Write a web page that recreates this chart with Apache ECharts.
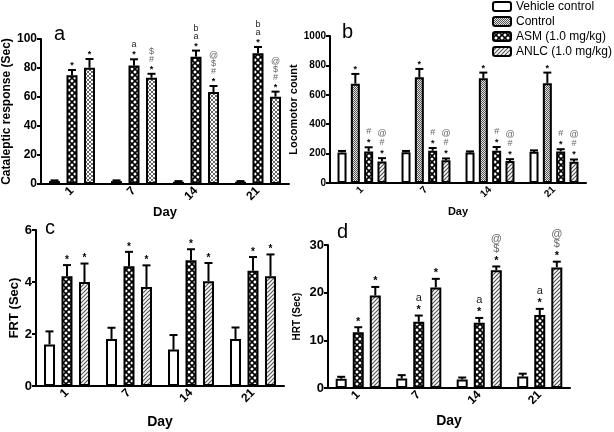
<!DOCTYPE html>
<html><head><meta charset="utf-8">
<script src="https://cdn.jsdelivr.net/npm/echarts@6/dist/echarts.min.js"></script>
<style>html,body{margin:0;padding:0;background:#fff}#c{width:614px;height:432px}</style>
</head><body><div id="c"></div>
<script>
const days = ['1', '7', '14', '21'];
const legendNames = ['Vehicle control', 'Control', 'ASM (1.0 mg/kg)', 'ANLC (1.0 mg/kg)'];

// Panel a: Cataleptic response (Sec)
const aVehicle = [2, 2, 1.5, 1.5];
const aVehicleErr = [0.5, 0.5, 0.5, 0.5];
const aASM = [75, 81.8, 87.8, 90.1];
const aASMErr = [3.6, 4.2, 4.2, 4.4];
const aASMLab = ['*', 'a\n*', 'b\na\n*', 'b\na\n*'];
const aANLC = [80.2, 73.3, 63.4, 60.2];
const aANLCErr = [6, 2.7, 4.2, 3.5];
const aANLCLab = ['*', '$\n#\n*', '@\n$\n#\n*', '@\n$\n#\n*'];

// Panel b: Locomotor count
const bVehicle = [208, 210, 207, 212];
const bVehicleErr = [10, 8, 8, 10];
const bControl = [676, 719, 713, 679];
const bControlErr = [66, 57, 38, 72];
const bControlLab = ['*', '*', '*', '*'];
const bASM = [215, 220, 220, 215];
const bASMErr = [28, 18, 25, 15];
const bASMLab = ['#\n*', '#\n*', '#\n*', '#\n*'];
const bANLC = [147, 155, 150, 145];
const bANLCErr = [22, 12, 12, 15];
const bANLCLab = ['@\n#\n*', '@\n#\n*', '@\n#\n*', '@\n#\n*'];

// Panel c: FRT (Sec)
const cVehicle = [1.6, 1.81, 1.4, 1.81];
const cVehicleErr = [0.5, 0.43, 0.56, 0.44];
const cASM = [4.22, 4.61, 4.84, 4.43];
const cASMErr = [0.43, 0.55, 0.42, 0.53];
const cASMLab = ['*', '*', '*', '*'];
const cANLC = [4.0, 3.81, 4.03, 4.22];
const cANLCErr = [0.71, 0.83, 0.7, 0.84];
const cANLCLab = ['*', '*', '*', '*'];

// Panel d: HRT (Sec)
const dVehicle = [1.95, 2.0, 1.8, 2.4];
const dVehicleErr = [0.4, 0.7, 0.4, 0.6];
const dASM = [11.7, 13.9, 13.7, 15.3];
const dASMErr = [1.05, 1.3, 1.0, 1.3];
const dASMLab = ['*', 'a\n*', 'a\n*', 'a\n*'];
const dANLC = [19.4, 21.1, 24.7, 25.3];
const dANLCErr = [1.8, 1.8, 0.8, 1.2];
const dANLCLab = ['*', '*', '@\n$\n*', '@\n$\n*'];

const FONT = 'Arial, "Liberation Sans", sans-serif';

function pattern(size, draw) {
  const c = document.createElement('canvas');
  c.width = size; c.height = size;
  const ctx = c.getContext('2d');
  draw(ctx, size);
  return { image: c, repeat: 'repeat' };
}
const pWhite = '#ffffff';
const pControl = pattern(2, (ctx) => {
  ctx.fillStyle = '#e4e4e4'; ctx.fillRect(0, 0, 2, 2);
  ctx.fillStyle = '#555'; ctx.fillRect(0, 0, 1, 1); ctx.fillRect(1, 1, 1, 1);
});
const pASM = pattern(6, (ctx, s) => {
  ctx.fillStyle = '#fff'; ctx.fillRect(0, 0, s, s);
  ctx.strokeStyle = '#000'; ctx.lineWidth = 1.6;
  ctx.beginPath();
  ctx.moveTo(-1, -1); ctx.lineTo(s + 1, s + 1);
  ctx.moveTo(s + 1, -1); ctx.lineTo(-1, s + 1);
  ctx.stroke();
});
const pANLC = pattern(4, (ctx, s) => {
  ctx.fillStyle = '#fff'; ctx.fillRect(0, 0, s, s);
  ctx.strokeStyle = '#555'; ctx.lineWidth = 1.2;
  ctx.beginPath();
  ctx.moveTo(-1, s + 1); ctx.lineTo(s + 1, -1);
  ctx.moveTo(-1, 1); ctx.lineTo(1, -1);
  ctx.moveTo(s - 1, s + 1); ctx.lineTo(s + 1, s - 1);
  ctx.stroke();
});
const pDots = pattern(4, (ctx, s) => {
  ctx.fillStyle = '#fff'; ctx.fillRect(0, 0, s, s);
  ctx.strokeStyle = '#666'; ctx.lineWidth = 1;
  ctx.beginPath();
  ctx.moveTo(-1, -1); ctx.lineTo(s + 1, s + 1);
  ctx.moveTo(s + 1, -1); ctx.lineTo(-1, s + 1);
  ctx.stroke();
});

const panels = [
  { key: 'a', grid: { left: 41, top: 39, width: 248, height: 145 }, min: 0, max: 100, interval: 20,
    yName: 'Cataleptic response (Sec)', yNameSize: 12, yNameGap: 22, yLabelSize: 12,
    xNameSize: 13, xNameGap: 21, xLabelSize: 12, barWidth: 11, barGap: '59%', labSize: 9, labStep: 8,
    bars: [
      { name: 'Vehicle a', data: aVehicle, err: aVehicleErr, lab: null, color: pWhite },
      { name: 'ASM a', data: aASM, err: aASMErr, lab: aASMLab, color: pASM },
      { name: 'ANLC a', data: aANLC, err: aANLCErr, lab: aANLCLab, color: pDots }
    ] },
  { key: 'b', grid: { left: 330, top: 36, width: 256, height: 147 }, min: 0, max: 1000, interval: 200,
    yName: 'Locomotor count', yNameSize: 11, yNameGap: 24, yLabelSize: 10,
    xNameSize: 11, xNameGap: 23, xLabelSize: 10, barWidth: 9, barGap: '48%', labSize: 9, labStep: 9,
    bars: [
      { name: legendNames[0], data: bVehicle, err: bVehicleErr, lab: null, color: pWhite },
      { name: legendNames[1], data: bControl, err: bControlErr, lab: bControlLab, color: pControl },
      { name: legendNames[2], data: bASM, err: bASMErr, lab: bASMLab, color: pASM },
      { name: legendNames[3], data: bANLC, err: bANLCErr, lab: bANLCLab, color: pANLC }
    ] },
  { key: 'c', grid: { left: 36, top: 230, width: 248, height: 156 }, min: 0, max: 6, interval: 2,
    yName: 'FRT (Sec)', yNameSize: 13, yNameGap: 14, yLabelSize: 13,
    xNameSize: 14, xNameGap: 29, xLabelSize: 12, barWidth: 11, barGap: '59%', labSize: 10, labStep: 9,
    bars: [
      { name: 'Vehicle c', data: cVehicle, err: cVehicleErr, lab: null, color: pWhite },
      { name: 'ASM c', data: cASM, err: cASMErr, lab: cASMLab, color: pASM },
      { name: 'ANLC c', data: cANLC, err: cANLCErr, lab: cANLCLab, color: pANLC }
    ] },
  { key: 'd', grid: { left: 328, top: 245, width: 242, height: 143 }, min: 0, max: 30, interval: 10,
    yName: 'HRT (Sec)', yNameSize: 10, yNameGap: 26, yLabelSize: 13,
    xNameSize: 14, xNameGap: 26, xLabelSize: 12, barWidth: 11, barGap: '55%', labSize: 11, labStep: 10,
    bars: [
      { name: 'Vehicle d', data: dVehicle, err: dVehicleErr, lab: null, color: pWhite },
      { name: 'ASM d', data: dASM, err: dASMErr, lab: dASMLab, color: pASM },
      { name: 'ANLC d', data: dANLC, err: dANLCErr, lab: dANLCLab, color: pANLC }
    ] }
];

const grids = [], xAxes = [], yAxes = [], series = [];
panels.forEach((p, pi) => {
  grids.push(Object.assign({ containLabel: false }, p.grid));
  xAxes.push({
    type: 'category', gridIndex: pi, data: days,
    name: 'Day', nameLocation: 'middle', nameGap: p.xNameGap,
    nameTextStyle: { fontFamily: FONT, fontWeight: 'bold', fontSize: p.xNameSize, color: '#000' },
    axisLine: { lineStyle: { color: '#000', width: 2 } },
    axisTick: { alignWithLabel: true, length: 4, lineStyle: { color: '#000', width: 1.5 } },
    axisLabel: { rotate: 45, fontFamily: FONT, fontWeight: 'bold', fontSize: p.xLabelSize, color: '#000', margin: 5 }
  });
  yAxes.push({
    type: 'value', gridIndex: pi, min: p.min, max: p.max, interval: p.interval,
    name: p.yName, nameLocation: 'middle', nameGap: p.yNameGap,
    nameTextStyle: { fontFamily: FONT, fontWeight: 'bold', fontSize: p.yNameSize, color: '#000' },
    axisLine: { show: true, lineStyle: { color: '#000', width: 2 } },
    axisTick: { show: true, length: 4, lineStyle: { color: '#000', width: 2 } },
    axisLabel: { fontFamily: FONT, fontWeight: 'bold', fontSize: p.yLabelSize, color: '#000', margin: 4,
      formatter: (v) => String(v) },
    splitLine: { show: false }
  });
  const n = p.bars.length;
  const gapFrac = parseFloat(p.barGap) / 100;
  const step = p.barWidth * (1 + gapFrac);
  p.bars.forEach((b, bi) => {
    series.push({
      type: 'bar', name: b.name, xAxisIndex: pi, yAxisIndex: pi,
      data: b.data, barWidth: p.barWidth, barGap: p.barGap,
      itemStyle: { color: b.color, borderColor: '#000', borderWidth: 2 },
      emphasis: { disabled: true }, animation: false, z: 2
    });
    const offset = (bi - (n - 1) / 2) * step;
    const labs = b.lab;
    series.push({
      type: 'custom', xAxisIndex: pi, yAxisIndex: pi, animation: false, z: 3,
      data: b.data.map((v, i) => [i, v, b.err[i]]),
      encode: { x: 0, y: 1 },
      renderItem: function (params, api) {
        const i = api.value(0), v = api.value(1), e = api.value(2);
        const base = api.coord([i, v]);
        const top = api.coord([i, v + e]);
        const x = base[0] + offset;
        const ch = [
          { type: 'line', shape: { x1: x, y1: base[1], x2: x, y2: top[1] }, style: { stroke: '#000', lineWidth: 2 } },
          { type: 'line', shape: { x1: x - 4, y1: top[1], x2: x + 4, y2: top[1] }, style: { stroke: '#000', lineWidth: 2 } }
        ];
        if (labs && labs[params.dataIndex]) {
          const lines = labs[params.dataIndex].split('\n').reverse();
          lines.forEach((t, k) => {
            const col = (t === '*' ) ? '#000' : (t === 'a' || t === 'b') ? '#222' : '#666';
            const dy = t === '*' ? 2 : 0;
            ch.push({ type: 'text', style: {
              x: x, y: top[1] - 2 - k * p.labStep + dy, text: t, fill: col,
              font: (t === '*' ? 'bold ' : '') + p.labSize + 'px ' + FONT,
              textAlign: 'center', textVerticalAlign: 'bottom'
            } });
          });
        }
        return { type: 'group', children: ch };
      }
    });
  });
});

const chart = echarts.init(document.getElementById('c'), null, { renderer: 'canvas' });
chart.setOption({
  backgroundColor: '#fff',
  animation: false,
  grid: grids, xAxis: xAxes, yAxis: yAxes, series: series,
  legend: {
    data: legendNames, orient: 'vertical', left: 492, top: 0, padding: 0,
    itemWidth: 18, itemHeight: 9, itemGap: 2,
    itemStyle: { borderColor: '#000', borderWidth: 2 },
    textStyle: { fontFamily: FONT, fontSize: 12, color: '#000', lineHeight: 13 },
    selectedMode: false
  },
  graphic: [
    { type: 'text', left: 54, top: 24, style: { text: 'a', font: '20px ' + FONT, fill: '#000' } },
    { type: 'text', left: 342, top: 22, style: { text: 'b', font: '20px ' + FONT, fill: '#000' } },
    { type: 'text', left: 45, top: 218, style: { text: 'c', font: '20px ' + FONT, fill: '#000' } },
    { type: 'text', left: 337, top: 222, style: { text: 'd', font: '20px ' + FONT, fill: '#000' } }
  ]
});
</script></body></html>
